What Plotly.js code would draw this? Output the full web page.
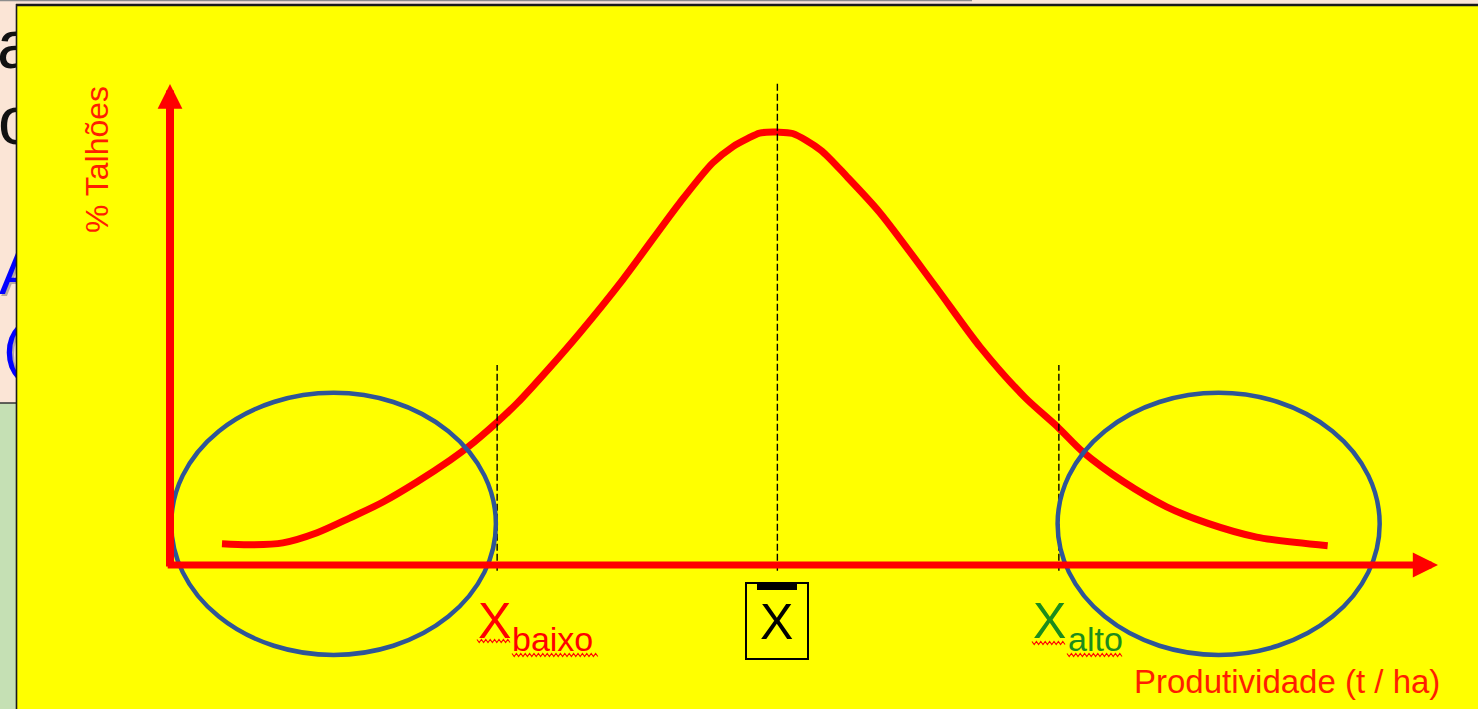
<!DOCTYPE html>
<html>
<head>
<meta charset="utf-8">
<script src="https://cdn.plot.ly/plotly-3.0.1.min.js"></script>
<style>
  html, body { margin: 0; padding: 0; background: #ffff00; overflow: hidden; }
  #chart { width: 1478px; height: 709px; }
</style>
</head>
<body>
<div id="chart"></div>
<script>
// ---------- data ----------
const produtividade = [4.1, 6.3, 8.9, 11.6, 14.2, 16.8, 19.5, 22.1, 23.4, 25.8, 27.4, 30.0, 32.3, 35.7, 40.2, 42.8, 44.4, 45.5, 46.5, 47.9, 49.1, 51.3, 53.4, 56.0, 60.4, 63.9, 67.4, 70.0, 72.0, 75.2, 78.6, 81.8, 85.7, 91.3];
const talhoes = [4.4, 4.2, 4.6, 6.7, 9.8, 13.1, 17.3, 21.8, 24.3, 29.7, 33.7, 41.2, 48.2, 59.3, 75.3, 83.6, 87.0, 88.6, 89.8, 90.0, 89.7, 86.3, 80.7, 73.2, 57.8, 45.3, 34.9, 28.7, 23.5, 17.3, 12.1, 8.7, 5.8, 4.0];
const refValues = [25.8, 47.9, 70.1];          // X baixo, X (média), X alto
const refTops = [41.6, 100.2, 41.6];           // top of each dashed line
const refLabels = ['baixo', '', 'alto'];
const axisTitleX = 'Produtividade (t / ha)';
const axisTitleY = '% Talhões';
const tailEllipseRight = 95.4;                  // right end of right ellipse
const ellipseY = [-18.7, 35.8];

// background slide fragments
const fragTexts = ['a', 'o', 'A', '('];

// ---------- layout helpers ----------
const W = 1478, H = 709;
const X0PX = 170, Y0PX = 565, PXX = 12.68, PXY = 4.81;
const xRange = [-X0PX / PXX, (W - X0PX) / PXX];
const yRange = [-(H - Y0PX) / PXY, Y0PX / PXY];
const pxX = p => p / W;
const pxY = p => 1 - p / H;
const RED = '#ff0000', TXTRED = '#ff1e00', GREEN = '#1c8c1c', BLUE = '#2f5597';
const FONT = 'Liberation Sans, Arial, sans-serif';

function wave(x0, x1, y, amp, period) {
  let d = '';
  let i = 0;
  for (let x = x0; x <= x1 + 0.01; x += period / 2, i++) {
    const yy = y + (i % 2 === 0 ? -amp : amp);
    d += (i === 0 ? 'M' : 'L') + pxX(x).toFixed(5) + ',' + pxY(yy).toFixed(5) + ' ';
  }
  return {type: 'path', xref: 'paper', yref: 'paper', path: d, line: {color: RED, width: 1.1}};
}

// ---------- traces ----------
const traces = [
  {
    x: produtividade, y: talhoes, type: 'scatter', mode: 'lines',
    line: {color: RED, width: 7, shape: 'spline', smoothing: 0.8},
    hoverinfo: 'skip', showlegend: false, xaxis: 'x', yaxis: 'y'
  },
  // slide fragments behind the yellow frame (clipped to the left strip)
  {
    x: [-3, -2], y: [51, 127], text: fragTexts.slice(0, 2), type: 'scatter', mode: 'text',
    textposition: 'middle right', textfont: {family: FONT, size: 68, color: '#111'},
    cliponaxis: true, hoverinfo: 'skip', showlegend: false, xaxis: 'x2', yaxis: 'y2'
  },
  {
    x: [1, 5], y: [281, 355], text: fragTexts.slice(2), type: 'scatter', mode: 'text',
    textposition: 'middle right', textfont: {family: FONT, size: 60, color: 'rgba(60,60,60,0.35)'},
    cliponaxis: true, hoverinfo: 'skip', showlegend: false, xaxis: 'x2', yaxis: 'y2'
  },
  {
    x: [-1, 3], y: [279, 353], text: fragTexts.slice(2), type: 'scatter', mode: 'text',
    textposition: 'middle right', textfont: {family: FONT, size: 60, color: '#0000ff'},
    cliponaxis: true, hoverinfo: 'skip', showlegend: false, xaxis: 'x2', yaxis: 'y2'
  }
];

// ---------- shapes ----------
const shapes = [
  // background pieces
  {type: 'rect', xref: 'paper', yref: 'paper', x0: 0, x1: 1, y0: pxY(4.5), y1: 1, fillcolor: '#fbe5d6', line: {width: 0}, layer: 'below'},
  {type: 'rect', xref: 'paper', yref: 'paper', x0: 0, x1: pxX(16.5), y0: pxY(403), y1: 1, fillcolor: '#fbe5d6', line: {width: 0}, layer: 'below'},
  {type: 'rect', xref: 'paper', yref: 'paper', x0: 0, x1: pxX(16.5), y0: 0, y1: pxY(403), fillcolor: '#c5e0b4', line: {width: 0}, layer: 'below'},
  // frame lines
  {type: 'line', xref: 'paper', yref: 'paper', x0: 0, x1: pxX(972), y0: pxY(0.6), y1: pxY(0.6), line: {color: '#8c8c8c', width: 1.5}},
  {type: 'line', xref: 'paper', yref: 'paper', x0: 0, x1: pxX(16), y0: pxY(403), y1: pxY(403), line: {color: '#333', width: 1.5}},
  {type: 'line', xref: 'paper', yref: 'paper', x0: pxX(16), x1: 1, y0: pxY(5), y1: pxY(5), line: {color: '#1a1a1a', width: 2.5}},
  {type: 'line', xref: 'paper', yref: 'paper', x0: pxX(16.5), x1: pxX(16.5), y0: pxY(4), y1: 0, line: {color: '#1a1a1a', width: 1.6}},
];
// dashed reference lines
refValues.forEach((v, i) => {
  shapes.push({type: 'line', xref: 'x', yref: 'y', x0: v, x1: v, y0: -1.2, y1: refTops[i],
               line: {color: '#000', width: 1.4, dash: '7px,3px'}});
});
// tail ellipses
shapes.push({type: 'circle', xref: 'x', yref: 'y', x0: 0.1, x1: refValues[0] - 0.1, y0: ellipseY[0], y1: ellipseY[1], line: {color: BLUE, width: 4.5}});
shapes.push({type: 'circle', xref: 'x', yref: 'y', x0: refValues[2] - 0.1, x1: tailEllipseRight, y0: ellipseY[0], y1: ellipseY[1], line: {color: BLUE, width: 4.5}});
// X-bar box and overbar
shapes.push({type: 'rect', xref: 'paper', yref: 'paper', x0: pxX(746), x1: pxX(808), y0: pxY(659), y1: pxY(583), line: {color: '#000', width: 2}});
shapes.push({type: 'rect', xref: 'paper', yref: 'paper', x0: pxX(757), x1: pxX(797), y0: pxY(590), y1: pxY(583), fillcolor: '#000', line: {width: 0}});
// spell-check wavy underlines
shapes.push(wave(477, 511, 641, 1.5, 4.4));
shapes.push(wave(512, 598, 655, 1.5, 4.4));
shapes.push(wave(1032, 1067, 643, 1.5, 4.4));
shapes.push(wave(1067, 1122, 655, 1.5, 4.4));

// ---------- annotations ----------
const annotations = [
  // axes as arrows
  {xref: 'x', yref: 'y', axref: 'x', ayref: 'y', x: 0, y: 100, ax: 0, ay: -0.6, text: '',
   showarrow: true, arrowhead: 2, arrowsize: 0.62, arrowwidth: 8, arrowcolor: RED, standoff: 0},
  {xref: 'x', yref: 'y', axref: 'x', ayref: 'y', x: 100, y: 0, ax: -0.3, ay: 0, text: '',
   showarrow: true, arrowhead: 2, arrowsize: 0.72, arrowwidth: 7, arrowcolor: RED, standoff: 0},
  // axis titles
  {xref: 'paper', yref: 'paper', x: pxX(1442), y: pxY(681), xanchor: 'right', yanchor: 'middle',
   text: axisTitleX, showarrow: false, font: {family: FONT, size: 33, color: TXTRED}},
  {xref: 'paper', yref: 'paper', x: pxX(97), y: pxY(160), xanchor: 'center', yanchor: 'middle', textangle: -90,
   text: axisTitleY, showarrow: false, font: {family: FONT, size: 32, color: TXTRED}},
  // reference labels
  {xref: 'paper', yref: 'paper', x: pxX(476), y: pxY(620.5), xanchor: 'left', yanchor: 'middle',
   text: 'X', showarrow: false, font: {family: FONT, size: 50, color: RED}},
  {xref: 'paper', yref: 'paper', x: pxX(510), y: pxY(639), xanchor: 'left', yanchor: 'middle',
   text: refLabels[0], showarrow: false, font: {family: FONT, size: 34, color: RED}},
  {xref: 'paper', yref: 'paper', x: pxX(777), y: pxY(621.5), xanchor: 'center', yanchor: 'middle',
   text: 'X', showarrow: false, font: {family: FONT, size: 50, color: '#000'}},
  {xref: 'paper', yref: 'paper', x: pxX(1031), y: pxY(620.5), xanchor: 'left', yanchor: 'middle',
   text: 'X', showarrow: false, font: {family: FONT, size: 50, color: GREEN}},
  {xref: 'paper', yref: 'paper', x: pxX(1066), y: pxY(639), xanchor: 'left', yanchor: 'middle',
   text: refLabels[2], showarrow: false, font: {family: FONT, size: 34, color: GREEN}}
];

const layout = {
  width: W, height: H,
  margin: {l: 0, r: 0, t: 0, b: 0, pad: 0},
  paper_bgcolor: '#ffff00',
  plot_bgcolor: 'rgba(0,0,0,0)',
  showlegend: false,
  xaxis: {range: xRange, domain: [0, 1], visible: false, fixedrange: true},
  yaxis: {range: yRange, domain: [0, 1], visible: false, fixedrange: true},
  xaxis2: {range: [0, 16], domain: [0, 16 / W], visible: false, fixedrange: true, anchor: 'y2'},
  yaxis2: {range: [H, 0], domain: [0, 1], visible: false, fixedrange: true, anchor: 'x2'},
  shapes: shapes,
  annotations: annotations,
  font: {family: FONT}
};

Plotly.newPlot('chart', traces, layout, {staticPlot: true, displayModeBar: false});
</script>
</body>
</html>
